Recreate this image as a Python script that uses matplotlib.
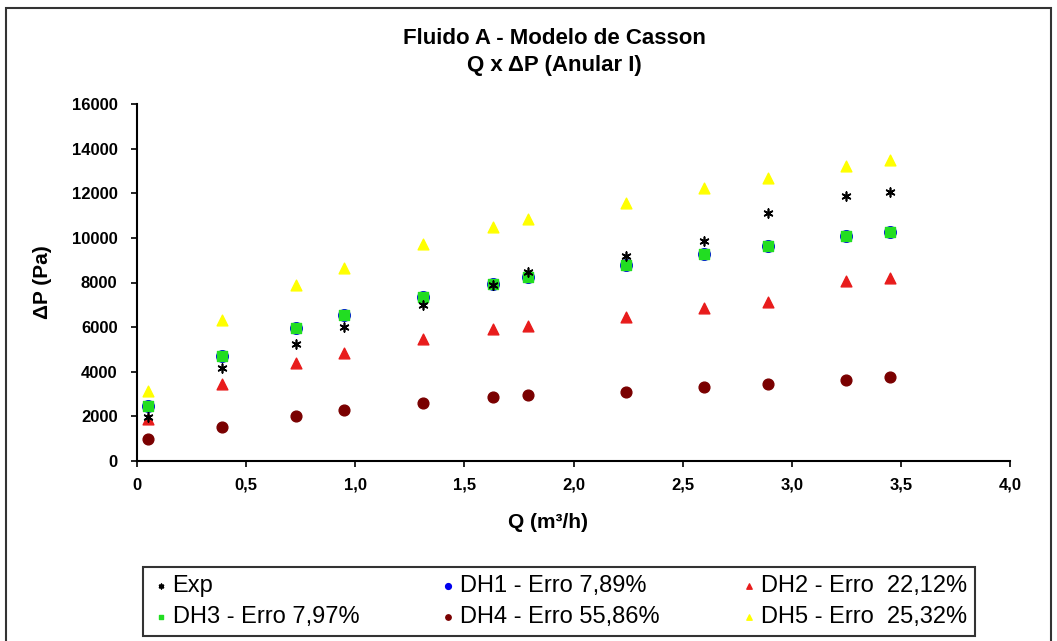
import matplotlib.pyplot as plt
from matplotlib.patches import Rectangle
from matplotlib.ticker import FuncFormatter

plt.rcParams['font.family'] = ['Liberation Sans', 'DejaVu Sans']

# Data
q = [0.05, 0.39, 0.73, 0.95, 1.31, 1.63, 1.79, 2.24, 2.60, 2.89, 3.25, 3.45]
exp = [1970, 4170, 5240, 6000, 7000, 7900, 8470, 9180, 9860, 11100, 11870, 12050]
dh1 = [2460, 4700, 5960, 6540, 7350, 7930, 8240, 8780, 9270, 9630, 10080, 10260]
dh2 = [1880, 3450, 4390, 4840, 5470, 5910, 6050, 6450, 6850, 7120, 8060, 8200]
dh3 = [2460, 4700, 5960, 6540, 7350, 7930, 8240, 8780, 9270, 9630, 10080, 10260]
dh4 = [990, 1520, 2020, 2290, 2600, 2870, 2960, 3090, 3320, 3450, 3630, 3760]
dh5 = [3140, 6320, 7880, 8650, 9720, 10480, 10840, 11560, 12230, 12680, 13220, 13480]

fig = plt.figure(figsize=(10.57, 6.41), dpi=100)
fig.patches.append(Rectangle((0.006, -0.01), 0.988, 0.998, transform=fig.transFigure,
                             fill=False, edgecolor='#333333', linewidth=1.5))

ax = fig.add_axes([137 / 1057, 1 - 461 / 641, (1010 - 137) / 1057, (461 - 104) / 641])

h_exp = ax.scatter(q, exp, marker=(6, 2, 0), s=40, color='black', linewidths=1.2, zorder=6)
h1 = ax.scatter(q, dh1, marker='o', s=70, color='#0000ee', zorder=3)
h2 = ax.scatter(q, dh2, marker='^', s=60, color='#e81c1c', zorder=4)
h3 = ax.scatter(q, dh3, marker='s', s=50, color='#22dd22', zorder=4)
h4 = ax.scatter(q, dh4, marker='o', s=60, color='#7a0000', zorder=4)
h5 = ax.scatter(q, dh5, marker='^', s=60, color='#ffff00', zorder=4)

ax.set_xlim(0, 4.0)
ax.set_ylim(0, 16000)
ax.set_xticks([0, 0.5, 1.0, 1.5, 2.0, 2.5, 3.0, 3.5, 4.0])
ax.set_yticks(range(0, 16001, 2000))
ax.xaxis.set_major_formatter(FuncFormatter(lambda v, p: '0' if v == 0 else f'{v:.1f}'.replace('.', ',')))
for s in ['top', 'right']:
    ax.spines[s].set_visible(False)
ax.spines['left'].set_linewidth(1.5)
ax.spines['bottom'].set_linewidth(1.5)
ax.tick_params(direction='out', length=4, width=1.2, labelsize=12)
for lab in ax.get_xticklabels() + ax.get_yticklabels():
    lab.set_fontweight('bold')
ax.tick_params(axis='x', pad=8)
ax.tick_params(axis='y', pad=10)

ax.set_ylabel('ΔP (Pa)', fontsize=15, fontweight='bold', labelpad=14)
fig.text(548 / 1057, 1 - 522 / 641, 'Q (m³/h)', ha='center', va='center',
         fontsize=15, fontweight='bold')

fig.text(554 / 1057, 1 - 38 / 641, 'Fluido A - Modelo de Casson', ha='center', va='center',
         fontsize=16, fontweight='bold')
fig.text(554 / 1057, 1 - 65 / 641, 'Q x ΔP (Anular I)', ha='center', va='center',
         fontsize=16, fontweight='bold')

handles = [h_exp, h3, h1, h4, h2, h5]
labels = ['Exp', 'DH3 - Erro 7,97%', 'DH1 - Erro 7,89%', 'DH4 - Erro 55,86%',
          'DH2 - Erro  22,12%', 'DH5 - Erro  25,32%']
leg = fig.legend(handles, labels, ncol=3, loc='lower left',
                 bbox_to_anchor=(143 / 1057, 1 - 636 / 641, (975 - 143) / 1057, (636 - 563) / 641),
                 mode='expand', frameon=True, fancybox=False, edgecolor='black',
                 handletextpad=0.1, handlelength=0.8, markerscale=0.5,
                 prop={'size': 17}, borderaxespad=0,
                 borderpad=0.35, labelspacing=0.35, columnspacing=0.8)
leg.get_frame().set_linewidth(1.5)

fig.savefig('out.png', dpi=100)
